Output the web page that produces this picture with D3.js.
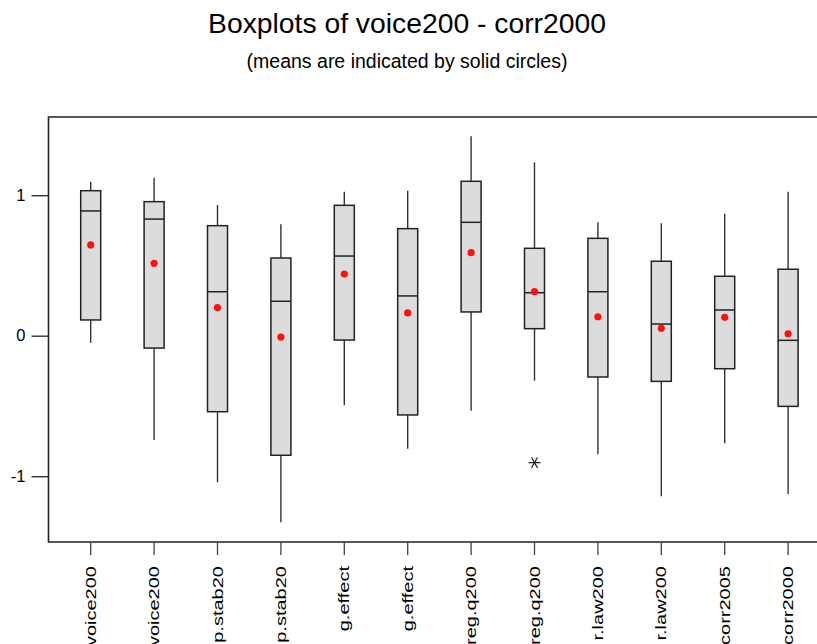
<!DOCTYPE html>
<html>
<head>
<meta charset="utf-8">
<script src="https://cdn.jsdelivr.net/npm/d3@7"></script>
<style>
  body { margin: 0; background: #fff; }
  svg { display: block; font-family: "Liberation Sans", Arial, sans-serif; }
</style>
</head>
<body>
<div id="chart"></div>
<script>
// values
const labels = ["voice200", "voice200", "p.stab20", "p.stab20", "g.effect", "g.effect",
                "reg.q200", "reg.q200", "r.law200", "r.law200", "corr2005", "corr2000"];
const whiskerLow  = [-0.05, -0.742, -1.043, -1.328, -0.495, -0.804, -0.534, -0.32, -0.844, -1.143, -0.766, -1.127];
const q1          = [0.112, -0.088, -0.541, -0.851, -0.031, -0.564, 0.169, 0.05, -0.294, -0.325, -0.235, -0.503];
const medians     = [0.888, 0.83, 0.313, 0.245, 0.567, 0.283, 0.807, 0.306, 0.313, 0.083, 0.183, -0.033];
const q3          = [1.032, 0.954, 0.783, 0.553, 0.928, 0.762, 1.099, 0.622, 0.693, 0.53, 0.423, 0.473];
const whiskerHigh = [1.096, 1.125, 0.93, 0.793, 1.025, 1.032, 1.419, 1.234, 0.807, 0.8, 0.868, 1.025];
const means       = [0.646, 0.515, 0.2, -0.01, 0.439, 0.162, 0.591, 0.313, 0.135, 0.053, 0.131, 0.014];
const outliers    = [{ box: 7, value: -0.904 }];
const yTicks = [-1, 0, 1];

const width = 817, height = 644;
const data = labels.map((name, i) => ({
  i, name,
  lo: whiskerLow[i], q1: q1[i], med: medians[i], q3: q3[i], hi: whiskerHigh[i], mean: means[i]
}));

const svg = d3.select("#chart").append("svg")
  .attr("width", width)
  .attr("height", height);

const x = d3.scalePoint()
  .domain(d3.range(labels.length))
  .range([90.7, 788.1]);

const y = d3.scaleLinear()
  .domain([-1, 1])
  .range([476.2, 195.2]);

const plotLeft = 48.5, plotTop = 117, plotBottom = 542;
const boxW = 20;

// titles
svg.append("text")
  .attr("x", 407).attr("y", 33)
  .attr("text-anchor", "middle")
  .style("font-size", "28.3px")
  .text("Boxplots of voice200 - corr2000");

svg.append("text")
  .attr("x", 407).attr("y", 68)
  .attr("text-anchor", "middle")
  .style("font-size", "19.5px")
  .text("(means are indicated by solid circles)");

// frame
svg.append("path")
  .attr("d", `M${width},${plotTop}H${plotLeft}V${plotBottom}H${width}`)
  .attr("fill", "none")
  .attr("stroke", "#222")
  .attr("stroke-width", 1.6);

// y axis
const yAxis = svg.append("g").attr("transform", `translate(${plotLeft},0)`)
  .call(d3.axisLeft(y).tickValues(yTicks).tickFormat(d => String(d)).tickSize(17).tickPadding(6));
yAxis.select(".domain").remove();
yAxis.selectAll(".tick line").attr("stroke", "#333").attr("stroke-width", 1.4);
yAxis.selectAll(".tick text")
  .attr("fill", "#000")
  .style("font-size", "16.5px")
  .style("font-family", "Liberation Sans, Arial, sans-serif");

// x axis ticks and labels
const xg = svg.append("g");
xg.selectAll("line")
  .data(data)
  .join("line")
  .attr("x1", d => x(d.i)).attr("x2", d => x(d.i))
  .attr("y1", plotBottom).attr("y2", plotBottom + 13)
  .attr("stroke", "#444")
  .attr("stroke-width", 1.3);

xg.selectAll("text")
  .data(data)
  .join("text")
  .attr("transform", d => `translate(${x(d.i) + 5},566) rotate(-90) scale(1.38,1)`)
  .attr("text-anchor", "end")
  .style("font-size", "14.5px")
  .text(d => d.name);

// boxes
const g = svg.append("g");

g.selectAll(".whisker")
  .data(data)
  .join("line")
  .attr("class", "whisker")
  .attr("x1", d => x(d.i)).attr("x2", d => x(d.i))
  .attr("y1", d => y(d.hi)).attr("y2", d => y(d.lo))
  .attr("stroke", "#333")
  .attr("stroke-width", 1.4);

g.selectAll(".box")
  .data(data)
  .join("rect")
  .attr("class", "box")
  .attr("x", d => x(d.i) - boxW / 2)
  .attr("width", boxW)
  .attr("y", d => y(d.q3))
  .attr("height", d => y(d.q1) - y(d.q3))
  .attr("fill", "#dcdcdc")
  .attr("stroke", "#222")
  .attr("stroke-width", 1.5);

g.selectAll(".median")
  .data(data)
  .join("line")
  .attr("class", "median")
  .attr("x1", d => x(d.i) - boxW / 2).attr("x2", d => x(d.i) + boxW / 2)
  .attr("y1", d => y(d.med)).attr("y2", d => y(d.med))
  .attr("stroke", "#222")
  .attr("stroke-width", 1.5);

g.selectAll(".mean")
  .data(data)
  .join("circle")
  .attr("class", "mean")
  .attr("cx", d => x(d.i))
  .attr("cy", d => y(d.mean))
  .attr("r", 3.6)
  .attr("fill", "#ff1010");

// outliers
g.selectAll(".outlier")
  .data(outliers)
  .join("path")
  .attr("class", "outlier")
  .attr("transform", d => `translate(${x(d.box)},${y(d.value)}) rotate(90)`)
  .attr("d", d3.symbol(d3.symbolAsterisk, 100))
  .attr("fill", "none")
  .attr("stroke", "#222")
  .attr("stroke-width", 1.2);
</script>
</body>
</html>
